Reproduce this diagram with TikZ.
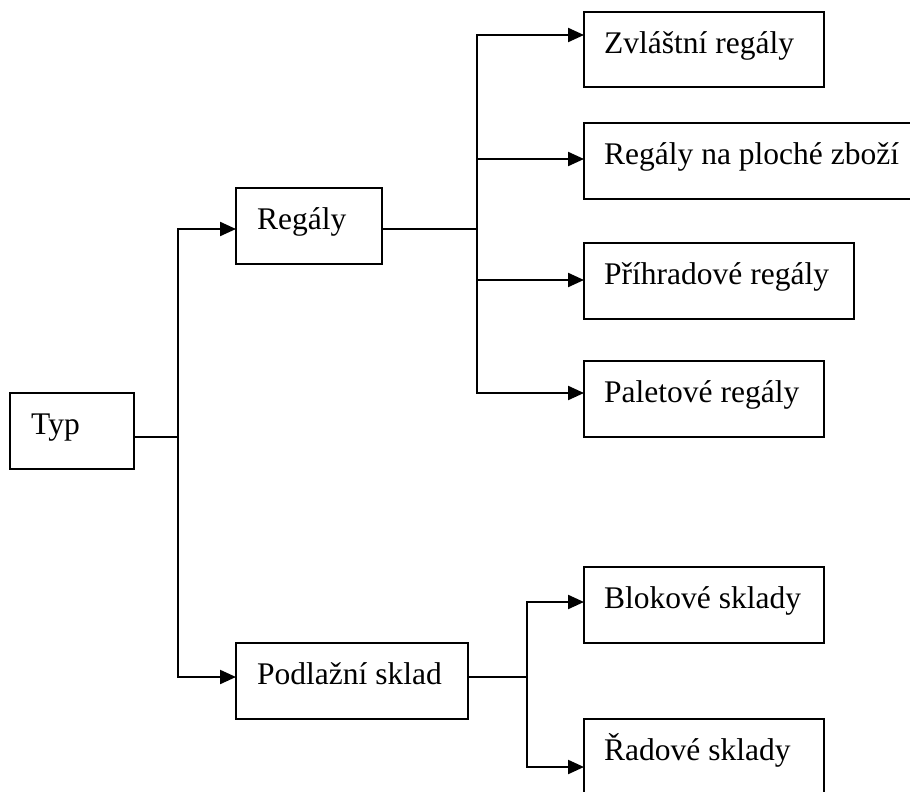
\documentclass[tikz,border=0pt]{standalone}
\usepackage{fontspec}
\setmainfont{Liberation Serif}
\usetikzlibrary{arrows.meta,calc}
\begin{document}
\begin{tikzpicture}[x=1pt,y=-1pt,
  box/.style={draw=black,line width=2pt,anchor=north west,inner sep=0pt,outer sep=0pt},
  txt/.style={anchor=base west,inner sep=0pt,font=\fontsize{31.5}{36}\selectfont},
  ln/.style={draw=black,line width=2.2pt},
  thin/.style={draw=black,line width=1.4pt},
  arr/.style={draw=black,line width=2.2pt,-{Triangle[length=16pt,width=14pt]}}]
\useasboundingbox (0,0) rectangle (910,792);
\clip (0,0) rectangle (910,792);
% boxes
\node[box,minimum width=124pt,minimum height=76pt] (typ) at (10,393) {};
\node[box,minimum width=146pt,minimum height=76pt] (regaly) at (236,188) {};
\node[box,minimum width=232pt,minimum height=76pt] (podl) at (236,643) {};
\node[box,minimum width=240pt,minimum height=75pt] (zv) at (584,12) {};
\node[box,minimum width=331pt,minimum height=76pt] (rpz) at (584,123) {};
\node[box,minimum width=270pt,minimum height=76pt] (pri) at (584,243) {};
\node[box,minimum width=240pt,minimum height=76pt] (pal) at (584,361) {};
\node[box,minimum width=240pt,minimum height=76pt] (blok) at (584,567) {};
\node[box,minimum width=240pt,minimum height=85pt] (rad) at (584,719) {};
% texts
\node[txt] (ttyp) at ($(typ.north west)+(21,41.5)$) {Typ};
\node[txt] (tregaly) at ($(regaly.north west)+(21,41.5)$) {Regály};
\node[txt] (tpodl) at ($(podl.north west)+(21,41.5)$) {Podlažní sklad};
\node[txt] (tzv) at ($(zv.north west)+(20,41.5)$) {Zvláštní regály};
\node[txt] (trpz) at ($(rpz.north west)+(20,41.5)$) {Regály na ploché zboží};
\node[txt] (tpri) at ($(pri.north west)+(20,41.5)$) {Příhradové regály};
\node[txt] (tpal) at ($(pal.north west)+(20,41.5)$) {Paletové regály};
\node[txt] (tblok) at ($(blok.north west)+(20,41.5)$) {Blokové sklady};
\node[txt] (trad) at ($(rad.north west)+(20,41.5)$) {Řadové sklady};
% junction coordinates
\coordinate (j1) at (178,437);
\coordinate (t1a) at (178,229);
\coordinate (t1b) at (178,677);
\coordinate (j2) at (477,229);
\coordinate (t2a) at (477,35);
\coordinate (t2b) at (477,159);
\coordinate (t2c) at (477,280);
\coordinate (t2d) at (477,393);
\coordinate (j3) at (527,677);
\coordinate (t3a) at (527,602);
\coordinate (t3b) at (527,767);
% connectors from Typ
\draw[thin] (typ.east |- j1) -- (j1);
\draw[ln,line cap=rect] (t1a) -- (t1b);
\draw[arr] (t1a) -- (regaly.west |- t1a);
\draw[arr] (t1b) -- (podl.west |- t1b);
% connectors from Regály
\draw[thin] (regaly.east |- j2) -- (j2);
\draw[ln,line cap=rect] (t2a) -- (t2d);
\draw[arr] (t2a) -- (zv.west |- t2a);
\draw[arr] (t2b) -- (rpz.west |- t2b);
\draw[arr] (t2c) -- (pri.west |- t2c);
\draw[arr] (t2d) -- (pal.west |- t2d);
% connectors from Podlažní sklad
\draw[thin] (podl.east |- j3) -- (j3);
\draw[ln,line cap=rect] (t3a) -- (t3b);
\draw[arr] (t3a) -- (blok.west |- t3a);
\draw[arr] (t3b) -- (rad.west |- t3b);
\end{tikzpicture}
\end{document}
